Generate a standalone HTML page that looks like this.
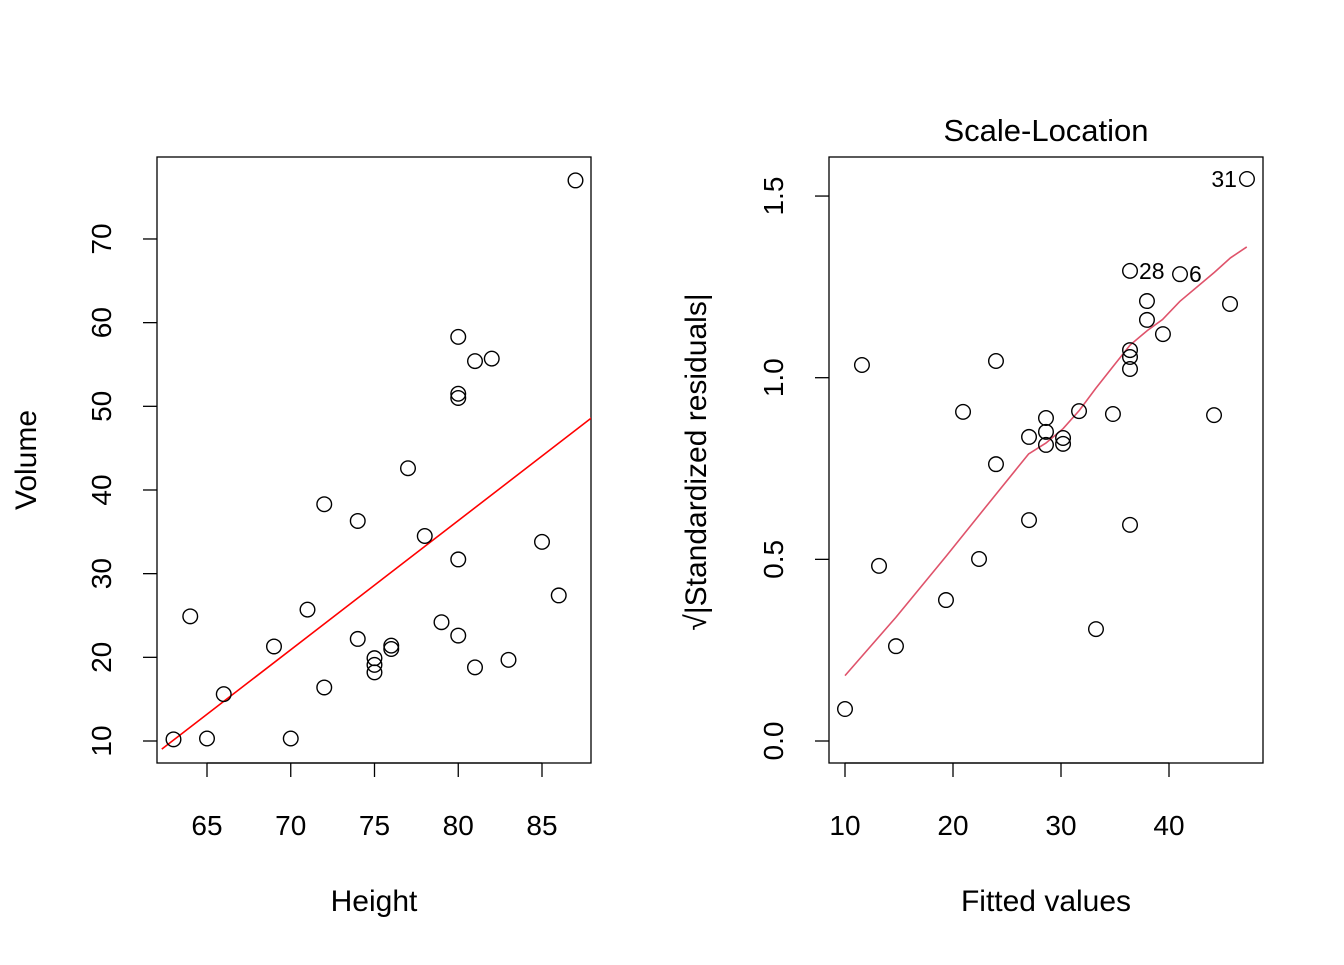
<!DOCTYPE html>
<html><head><meta charset="utf-8"><style>
body{margin:0;background:#fff}
svg text{font-family:"Liberation Sans",Arial,sans-serif;fill:#000}
</style></head><body>
<svg id="c" width="1344" height="960" xmlns="http://www.w3.org/2000/svg">
<rect width="1344" height="960" fill="#fff"/>
<g id="left"></g>
<g id="right"></g>
</svg>
<script>
const heights=[70,65,63,72,81,83,66,75,80,75,79,76,76,69,75,74,85,86,71,64,78,80,74,72,77,81,82,80,80,80,87];
const volumes=[10.3,10.3,10.2,16.4,18.8,19.7,15.6,18.2,22.6,19.9,24.2,21.0,21.4,21.3,19.1,22.2,33.8,27.4,25.7,24.9,34.5,31.7,36.3,38.3,42.6,55.4,55.7,58.3,51.5,51.0,77.0];
const fitLine=[-87.124,1.5433];
const leftXTicks=[65,70,75,80,85];
const leftYTicks=[10,20,30,40,50,60,70];
const fitted=[10.0,11.57,13.15,14.72,19.35,20.93,22.41,23.98,23.98,27.04,27.04,28.61,28.61,28.61,30.19,30.19,31.67,33.24,34.81,36.39,36.39,36.39,36.39,36.39,37.96,37.96,39.44,41.02,44.17,45.65,47.22];
const sqrtRes=[0.088,1.035,0.482,0.261,0.388,0.906,0.501,1.046,0.762,0.837,0.608,0.889,0.851,0.815,0.834,0.818,0.908,0.308,0.900,1.294,1.076,1.057,1.024,0.595,1.211,1.159,1.120,1.285,0.897,1.203,1.547];
const smoothX=[10.0,14.7,19.4,24.0,27.0,28.6,30.2,31.7,33.2,34.8,36.4,38.0,39.4,41.0,44.2,45.7,47.2];
const smoothY=[0.18,0.34,0.51,0.68,0.79,0.82,0.86,0.91,0.97,1.03,1.09,1.13,1.16,1.21,1.29,1.33,1.36];
const rightXTicks=[10,20,30,40];
const rightYTicks=[0.0,0.5,1.0,1.5];
const pointLabels=[{i:30,t:"31"},{i:19,t:"28"},{i:27,t:"6"}];

const NS="http://www.w3.org/2000/svg";
function el(p,tag,a,txt){const e=document.createElementNS(NS,tag);for(const k in a)e.setAttribute(k,a[k]);if(txt!==undefined)e.textContent=txt;p.appendChild(e);return e;}

const TF=28, AF=30;
// Left panel
const L=document.getElementById('left');
const lx=h=>207+(h-65)*16.75, ly=v=>741-(v-10)*8.367;
let e=el(L,'rect',{x:157,y:157,width:434,height:606,fill:'none',stroke:'#000','stroke-width':1.3});

leftXTicks.forEach(t=>{
 e=el(L,'line',{x1:lx(t),x2:lx(t),y1:763,y2:777,stroke:'#000','stroke-width':1.3});
 
 e=el(L,'text',{x:lx(t),y:835,'font-size':TF,'text-anchor':'middle'},t);
 
});
el(L,'line',{x1:lx(65),x2:lx(85),y1:763,y2:763,stroke:'#000','stroke-width':1.3});
leftYTicks.forEach(t=>{
 e=el(L,'line',{x1:143,x2:157,y1:ly(t),y2:ly(t),stroke:'#000','stroke-width':1.3});
 
 e=el(L,'text',{x:0,y:0,'font-size':TF,'text-anchor':'middle',transform:`translate(111,${ly(t)}) rotate(-90)`},t);
 
});
e=el(L,'text',{x:374,y:911,'font-size':AF,'text-anchor':'middle'},'Height');

e=el(L,'text',{x:0,y:0,'font-size':AF,'text-anchor':'middle',transform:'translate(36,460) rotate(-90)'},'Volume');

const cl=document.createElementNS(NS,'clipPath');cl.id='lc';el(cl,'rect',{x:157,y:157,width:434,height:606});L.appendChild(cl);
const h0=62.3,h1=88;
e=el(L,'line',{x1:lx(h0),y1:ly(fitLine[0]+fitLine[1]*h0),x2:lx(h1),y2:ly(fitLine[0]+fitLine[1]*h1),stroke:'#f00','stroke-width':1.6,'clip-path':'url(#lc)'});

heights.forEach((h,i)=>{
 e=el(L,'circle',{cx:lx(h),cy:ly(volumes[i]),r:7.3,fill:'none',stroke:'#000','stroke-width':1.4});
 
});

// Right panel
const R=document.getElementById('right');
const rx=f=>845+(f-10)*10.8, ry=v=>741-v*363.3;
e=el(R,'rect',{x:829,y:157,width:434,height:606,fill:'none',stroke:'#000','stroke-width':1.3});

e=el(R,'text',{x:1046,y:141,'font-size':31,'text-anchor':'middle'},'Scale-Location');

rightXTicks.forEach(t=>{
 e=el(R,'line',{x1:rx(t),x2:rx(t),y1:763,y2:777,stroke:'#000','stroke-width':1.3});
 
 e=el(R,'text',{x:rx(t),y:835,'font-size':TF,'text-anchor':'middle'},t);
 
});
el(R,'line',{x1:rx(10),x2:rx(40),y1:763,y2:763,stroke:'#000','stroke-width':1.3});
rightYTicks.forEach(t=>{
 e=el(R,'line',{x1:815,x2:829,y1:ry(t),y2:ry(t),stroke:'#000','stroke-width':1.3});
 
 e=el(R,'text',{x:0,y:0,'font-size':TF,'text-anchor':'middle',transform:`translate(783,${ry(t)}) rotate(-90)`},t.toFixed(1));
 
});
e=el(R,'text',{x:1046,y:911,'font-size':AF,'text-anchor':'middle'},'Fitted values');

e=el(R,'text',{x:0,y:0,'font-size':AF,'text-anchor':'middle',transform:'translate(706,462) rotate(-90)'},'√|Standardized residuals|');

e=el(R,'polyline',{points:smoothX.map((x,i)=>rx(x)+','+ry(smoothY[i])).join(' '),fill:'none',stroke:'#df536b','stroke-width':1.6});

fitted.forEach((f,i)=>{
 e=el(R,'circle',{cx:rx(f),cy:ry(sqrtRes[i]),r:7.3,fill:'none',stroke:'#000','stroke-width':1.4});
 
});
pointLabels.forEach(p=>{
 const x=rx(fitted[p.i]),y=ry(sqrtRes[p.i]);
 const left=p.t==="31";
 e=el(R,'text',{x:left?x-10:x+9,y:y+8,'font-size':23,'text-anchor':left?'end':'start'},p.t);
 
});
</script>
</body></html>
